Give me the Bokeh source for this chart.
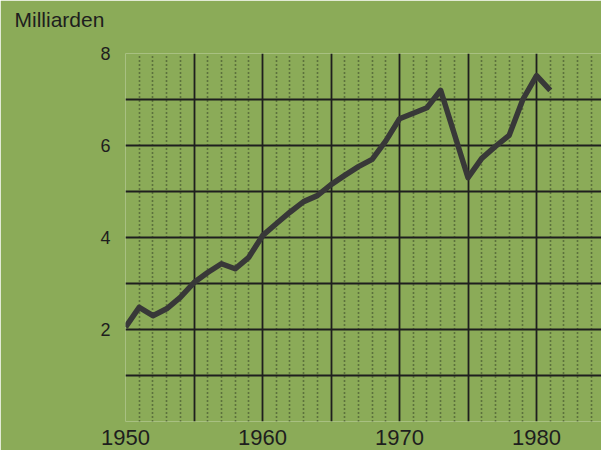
from bokeh.plotting import figure
from bokeh.models import FixedTicker, Range1d, Title
from bokeh.embed import file_html
from bokeh.resources import INLINE

years = list(range(1950, 1982))
values = [2.05, 2.48, 2.30, 2.45, 2.70, 3.02, 3.24, 3.43, 3.32, 3.57,
          4.04, 4.30, 4.55, 4.78, 4.91, 5.15, 5.35, 5.54, 5.70, 6.10,
          6.58, 6.70, 6.82, 7.20, 6.25, 5.30, 5.72, 5.98, 6.22, 7.00,
          7.52, 7.20]
x_labels = [1950, 1960, 1970, 1980]
y_labels = [2, 4, 6, 8]
y_grid = list(range(0, 9))
x_major_grid = list(range(1950, 1990, 5))
x_minor_grid = [y for y in range(1950, 1986) if y % 5 != 0]

BG = "#8bab58"
INK = "#1e1e1e"

p = figure(width=601, height=450, output_backend="svg", toolbar_location=None,
           x_range=Range1d(1950, 1984.74), y_range=Range1d(0, 8),
           min_border_left=125, min_border_right=0, min_border_top=53,
           min_border_bottom=29)
p.background_fill_color = BG
p.border_fill_color = BG
p.outline_line_color = None

p.title.text = "Milliarden"
p.title.text_font = "Liberation Sans"
p.title.text_font_size = "21px"
p.title.text_font_style = "normal"
p.title.text_color = INK
p.title.align = "left"
p.title.offset = -111
p.add_layout(Title(text=" ", text_font_size="5px"), "above")

p.xaxis.ticker = FixedTicker(ticks=x_labels)
p.yaxis.ticker = FixedTicker(ticks=y_labels)
for ax in (p.xaxis, p.yaxis):
    ax.axis_line_color = None
    ax.major_tick_line_color = None
    ax.minor_tick_line_color = None
    ax.major_label_text_font = "Liberation Sans"
    ax.major_label_text_color = INK
p.xaxis.major_label_text_font_size = "22px"
p.yaxis.major_label_text_font_size = "18px"
p.xaxis.major_label_standoff = 2
p.yaxis.major_label_standoff = 9

p.ygrid.ticker = FixedTicker(ticks=y_grid)
p.ygrid.grid_line_color = INK
p.ygrid.grid_line_width = 1.8
p.xgrid.ticker = FixedTicker(ticks=x_major_grid, minor_ticks=x_minor_grid)
p.xgrid.grid_line_color = INK
p.xgrid.grid_line_width = 1.8
p.xgrid.minor_grid_line_color = "#2e3a22"
p.xgrid.minor_grid_line_width = 1.6
p.xgrid.minor_grid_line_dash = "1 3"

p.line(years, values, line_color="#383838", line_width=5.5, line_join="round")

html = file_html(p, INLINE)
open("out.html", "w").write(html)
